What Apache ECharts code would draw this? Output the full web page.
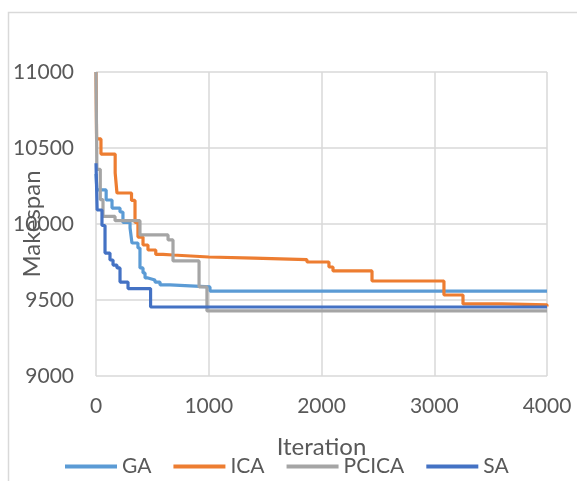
<!DOCTYPE html>
<html>
<head>
<meta charset="utf-8">
<script src="https://cdn.jsdelivr.net/npm/echarts@6/dist/echarts.min.js"></script>
<style>
html,body{margin:0;padding:0;background:#fff;}
#chart{width:577px;height:481px;}
</style>
</head>
<body>
<div id="chart"></div>
<script>
// [iteration, makespan] points where each curve changes value
const gaData = [[0,10330],[8,10224],[90,10158],[142,10105],[213,10079],[239,10010],[302,9974],[319,9875],[372,9842],[390,9711],[417,9678],[435,9645],[461,9632],[523,9618],[568,9599],[656,9590],[922,9586],[1011,9559],[4000,9559]];
const icaData = [[0,11000],[5,10560],[44,10460],[170,10336],[186,10204],[315,10155],[346,10010],[372,9914],[417,9862],[461,9829],[530,9800],[594,9796],[683,9783],[1000,9775],[1400,9765],[1871,9750],[2066,9717],[2102,9691],[2448,9625],[3086,9533],[3255,9474],[3600,9468],[4000,9458]];
const pcicaData = [[0,11000],[8,10360],[38,10160],[62,10050],[169,10022],[390,9928],[639,9895],[683,9757],[914,9586],[984,9428],[4000,9428]];
const saData = [[0,10400],[10,10092],[53,9990],[80,9809],[124,9763],[151,9730],[186,9711],[213,9618],[284,9575],[484,9454],[4000,9454]];
const seriesNames = ['GA','ICA','PCICA','SA'];
const seriesColors = ['#5B9BD5','#ED7D31','#A5A5A5','#4472C4'];
const xTicks = [0,1000,2000,3000,4000];
const yTicks = [9000,9500,10000,10500,11000];

const allData = [gaData, icaData, pcicaData, saData];
const FONT = 'Lato';
const chart = echarts.init(document.getElementById('chart'), null, {renderer:'canvas'});
chart.setOption({
  animation:false,
  backgroundColor:'#fff',
  graphic:[{
    type:'rect', shape:{x:8.5,y:12.5,width:600,height:500},
    style:{fill:'none',stroke:'#d9d9d9',lineWidth:1.5}, z:-1
  }],
  grid:{left:96,right:30,top:72,bottom:105,containLabel:false,outerBoundsMode:'none'},
  legend:{
    data:seriesNames, left:65, top:456, padding:0, icon:'rect', itemWidth:52, itemHeight:4, itemGap:22,
    textStyle:{fontFamily:FONT,fontSize:21,color:'#595959'}
  },
  xAxis:{
    type:'value', min:xTicks[0], max:xTicks[xTicks.length-1], interval:1000,
    name:'Iteration', nameLocation:'middle', nameGap:59, nameMoveOverlap:false,
    nameTextStyle:{fontFamily:FONT,fontSize:24,color:'#595959'},
    axisLine:{show:false}, axisTick:{show:false},
    axisLabel:{margin:20,fontFamily:FONT,fontSize:21,color:'#595959',formatter:v=>String(v)},
    splitLine:{show:true,lineStyle:{color:'#d9d9d9',width:1.5}}
  },
  yAxis:{
    type:'value', min:yTicks[0], max:yTicks[yTicks.length-1], interval:500,
    name:'Makespan', nameLocation:'middle', nameGap:52, nameMoveOverlap:false,
    nameTextStyle:{fontFamily:FONT,fontSize:24,color:'#595959'},
    axisLine:{show:false}, axisTick:{show:false},
    axisLabel:{margin:22,fontFamily:FONT,fontSize:21,color:'#595959',formatter:v=>String(v)},
    splitLine:{show:true,lineStyle:{color:'#d9d9d9',width:1.5}}
  },
  series: seriesNames.map((n,i)=>({
    name:n, type:'line', step:'end', data:allData[i], showSymbol:false, symbol:'none',
    color:seriesColors[i],
    lineStyle:{color:seriesColors[i],width:3.2}
  }))
});
</script>
</body>
</html>
